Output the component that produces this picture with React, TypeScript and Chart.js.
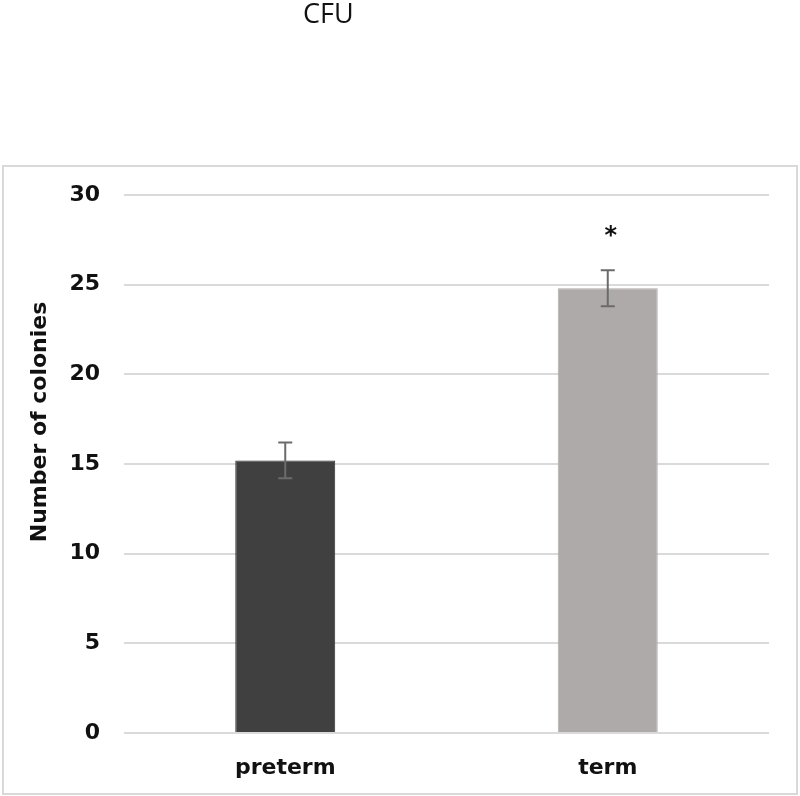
import React, { useEffect, useRef } from "react";
import { Chart, registerables } from "chart.js";

Chart.register(...registerables);

const chartTitle = "CFU";
const categories = ["preterm", "term"];
const means = [15.2, 24.8];
const errors = [1.0, 1.0];
const significance = ["", "*"];
const yMin = 0;
const yMax = 30;
const yStep = 5;
const yAxisTitle = "Number of colonies";
const barColors = ["#404040", "#aeaaa9"];
const barBorders = ["#2e2e2e", "#aeaaa9"];

const FONT = "'DejaVu Sans', sans-serif";

const overlayPlugin = {
  id: "overlay",
  afterDatasetsDraw(chart: any) {
    const ctx = chart.ctx;
    const meta = chart.getDatasetMeta(0);
    const y = chart.scales.y;
    ctx.save();
    // error bars
    ctx.strokeStyle = "#6b6b6b";
    ctx.lineWidth = 2;
    meta.data.forEach((bar: any, i: number) => {
      const x = bar.x;
      const top = y.getPixelForValue(means[i] + errors[i]);
      const bot = y.getPixelForValue(means[i] - errors[i]);
      ctx.beginPath();
      ctx.moveTo(x, top);
      ctx.lineTo(x, bot);
      ctx.moveTo(x - 7, top);
      ctx.lineTo(x + 7, top);
      ctx.moveTo(x - 7, bot);
      ctx.lineTo(x + 7, bot);
      ctx.stroke();
      if (significance[i]) {
        ctx.fillStyle = "#111";
        ctx.font = `bold 24px ${FONT}`;
        ctx.textAlign = "center";
        ctx.textBaseline = "middle";
        ctx.fillText(significance[i], x + 3, top - 34);
      }
    });
    // y axis title
    const ca = chart.chartArea;
    ctx.fillStyle = "#111";
    ctx.font = `bold 22px ${FONT}`;
    ctx.textAlign = "center";
    ctx.textBaseline = "middle";
    ctx.translate(36, (ca.top + ca.bottom) / 2 - 42);
    ctx.rotate(-Math.PI / 2);
    ctx.fillText(yAxisTitle, 0, 0);
    ctx.restore();
  },
};

export default function App() {
  const ref = useRef<HTMLCanvasElement | null>(null);
  useEffect(() => {
    if (!ref.current) return;
    const chart = new Chart(ref.current, {
      type: "bar",
      data: {
        labels: categories,
        datasets: [
          {
            data: means,
            backgroundColor: barColors,
            borderColor: barBorders,
            borderWidth: 1,
            barPercentage: 0.31,
            categoryPercentage: 1,
          },
        ],
      },
      options: {
        animation: false,
        responsive: false,
        maintainAspectRatio: false,
        layout: { padding: { top: 28, right: 27, left: 0, bottom: 0 } },
        plugins: {
          legend: { display: false },
          tooltip: { enabled: false },
          title: { display: false },
        },
        scales: {
          x: {
            grid: { display: false, drawTicks: false },
            border: { display: false },
            ticks: {
              color: "#111",
              font: { family: FONT, size: 22, weight: "bold" },
              padding: 22,
            },
            afterFit(scale: any) {
              scale.height = 60;
            },
          },
          y: {
            min: yMin,
            max: yMax,
            grid: {
              color: "#dadada",
              lineWidth: 2,
              drawTicks: true,
              tickLength: 22,
              tickColor: "rgba(0,0,0,0)",
            },
            border: { display: false },
            ticks: {
              stepSize: yStep,
              color: "#111",
              font: { family: FONT, size: 22, weight: "bold" },
              padding: 2,
            },
            afterFit(scale: any) {
              scale.width = 120;
            },
          },
        },
      },
      plugins: [overlayPlugin],
    });
    return () => chart.destroy();
  }, []);

  return (
    <div style={{ position: "fixed", left: 0, top: 0, width: 800, height: 796, background: "#fff" }}>
      <div
        style={{
          position: "absolute",
          left: 303,
          top: -1,
          fontFamily: "'Open Sans', sans-serif",
          fontSize: 27,
          lineHeight: "27px",
          color: "#111",
          whiteSpace: "nowrap",
        }}
      >
        {chartTitle}
      </div>
      <div
        style={{
          position: "absolute",
          left: 2,
          top: 165,
          width: 796,
          height: 630,
          border: "2px solid #d9d9d9",
          boxSizing: "border-box",
        }}
      >
        <canvas ref={ref} width={792} height={626} style={{ display: "block", width: 792, height: 626 }} />
      </div>
    </div>
  );
}
